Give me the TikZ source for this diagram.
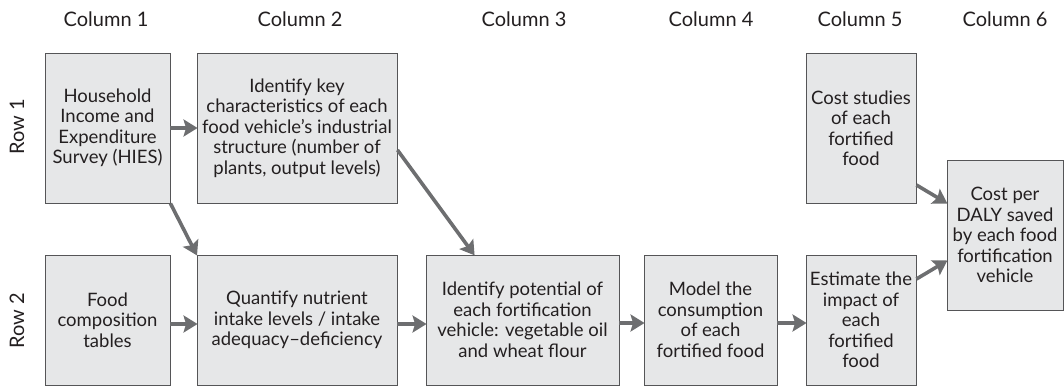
\documentclass[tikz,border=0pt]{standalone}
\usepackage{fontspec}
\setmainfont{Lato}
\usetikzlibrary{arrows.meta,calc}
\definecolor{boxfill}{RGB}{230,231,232}
\definecolor{boxline}{RGB}{85,85,87}
\definecolor{arrowgray}{RGB}{109,110,112}
\definecolor{txt}{RGB}{35,31,32}
\begin{document}
\begin{tikzpicture}[x=1pt,y=-1pt,
  every node/.style={font=\fontsize{18.5}{20.5}\selectfont, text=txt},
  box/.style={draw=boxline, line width=0.9pt, fill=boxfill, align=center, inner sep=0pt},
  lbl/.style={inner sep=0pt, font=\fontsize{20}{22}\selectfont},
  conn/.style={draw=arrowgray, line width=3.6pt, -{Stealth[length=14pt,width=17pt,inset=2.5pt]}, shorten >=-1pt}
]
\useasboundingbox (0,0) rectangle (1064,386);
\begin{scope}
\clip (0,0) rectangle (1064,386);
% column labels
\node[lbl] (c1) at (106,19) {Column 1};
\node[lbl] (c2) at (300,19) {Column 2};
\node[lbl] (c3) at (524,19) {Column 3};
\node[lbl] (c4) at (711,19) {Column 4};
\node[lbl] (c5) at (860,19) {Column 5};
\node[lbl] (c6) at (1005,19) {Column 6};
% row labels
\node[lbl, rotate=90] (r1) at (17,127) {Row 1};
\node[lbl, rotate=90] (r2) at (17,321) {Row 2};
% boxes row 1
\node[box, minimum width=125pt, minimum height=150pt] (A) at (107.5,128)
  {Household\\Income and\\Expenditure\\Survey (HIES)};
\node[box, minimum width=200pt, minimum height=150pt] (B) at (297,128)
  {Identify key\\characteristics of each\\food vehicle’s industrial\\structure (number of\\plants, output levels)};
\node[box, minimum width=110pt, minimum height=150pt] (H) at (861,128)
  {Cost studies\\of each\\fortified\\food};
% boxes row 2
\node[box, minimum width=125pt, minimum height=130pt] (C) at (107.5,320)
  {Food\\composition\\tables};
\node[box, minimum width=200pt, minimum height=130pt] (D) at (297,320)
  {Quantify nutrient\\intake levels / intake\\adequacy--deficiency};
\node[box, minimum width=193pt, minimum height=130pt] (E) at (522.5,320)
  {Identify potential of\\each fortification\\vehicle: vegetable oil\\and wheat flour};
\node[box, minimum width=133pt, minimum height=130pt] (F) at (710.5,320)
  {Model the\\consumption\\of each\\fortified food};
\node[box, minimum width=110pt, minimum height=130pt] (G) at (861,320)
  {Estimate the\\impact of\\each\\fortified\\food};
\node[box, minimum width=116pt, minimum height=150pt] (I) at (1005,235)
  {Cost per\\DALY saved\\by each food\\fortification\\vehicle};
% connectors
\draw[conn] (A.east) -- (B.west);
\draw[conn] (A.south east) -- (D.north west);
\draw[conn] ($(B.east)+(0,22)$) -- ($(E.north)+(-48.5,0)$);
\draw[conn] ($(C.east)+(0,4)$) -- ($(D.west)+(0,4)$);
\draw[conn] ($(D.east)+(0,4)$) -- ($(E.west)+(0,4)$);
\draw[conn] ($(E.east)+(0,3)$) -- ($(F.west)+(0,3)$);
\draw[conn] ($(F.east)+(0,3)$) -- ($(G.west)+(0,3)$);
\draw[conn] ($(H.east)+(0,57)$) -- ($(I.west)+(0,-32)$);
\draw[conn] ($(G.east)+(0,-41)$) -- ($(I.west)+(0,26)$);
\end{scope}
\end{tikzpicture}
\end{document}
